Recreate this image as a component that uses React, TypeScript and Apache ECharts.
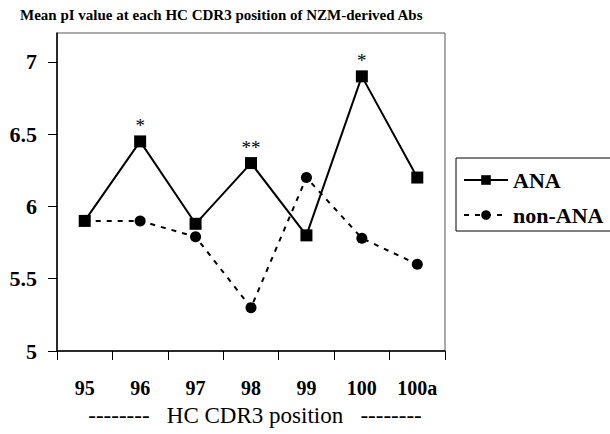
import React, { useEffect, useRef } from "react";
import * as echarts from "echarts";

const categories = ["95", "96", "97", "98", "99", "100", "100a"];
const anaValues = [5.9, 6.45, 5.88, 6.3, 5.8, 6.9, 6.2];
const nonAnaValues = [5.9, 5.9, 5.79, 5.3, 6.2, 5.78, 5.6];
const significance = ["", "*", "", "**", "", "*", ""];
const yTicks = [5, 5.5, 6, 6.5, 7];

const SERIF = "Liberation Serif";

export default function App() {
  const ref = useRef<HTMLDivElement>(null);
  useEffect(() => {
    if (!ref.current) return;
    const chart = echarts.init(ref.current, undefined, { renderer: "svg" });
    chart.setOption({
      animation: false,
      backgroundColor: "#ffffff",
      title: {
        text: "Mean pI value at each HC CDR3 position of NZM-derived Abs",
        left: 20,
        top: 7,
        padding: 0,
        textStyle: { fontFamily: SERIF, fontSize: 15, fontWeight: "bold", color: "#000" },
      },
      grid: {
        left: 57,
        top: 33,
        right: 165,
        bottom: 83,
        show: true,
        borderColor: "#555",
        borderWidth: 1,
        backgroundColor: "transparent",
      },
      legend: {
        orient: "vertical",
        left: 456,
        top: 158,
        padding: [11, 40, 5, 7],
        itemGap: 13,
        itemWidth: 44,
        itemHeight: 12,
        borderColor: "#000",
        borderWidth: 1,
        textStyle: { fontFamily: SERIF, fontSize: 22, fontWeight: "bold", color: "#000", lineHeight: 20 },
        data: ["ANA", "non-ANA"],
      },
      xAxis: {
        type: "category",
        data: categories,
        boundaryGap: true,
        axisLine: { lineStyle: { color: "#000", width: 1.5 } },
        axisTick: { show: true, length: 9, inside: false, lineStyle: { color: "#000" } },
        axisLabel: { margin: 27, fontFamily: SERIF, fontSize: 20, fontWeight: "bold", color: "#000" },
        splitLine: { show: false },
      },
      yAxis: {
        type: "value",
        min: 5,
        max: 7.2,
        interval: 0.5,
        axisLine: { show: true, lineStyle: { color: "#000", width: 1.5 } },
        axisTick: { show: true, length: 9, customValues: yTicks, lineStyle: { color: "#000" } },
        axisLabel: {
          margin: 20,
          customValues: yTicks,
          fontFamily: SERIF,
          fontSize: 22,
          fontWeight: "bold",
          color: "#000",
        },
        splitLine: { show: false },
      },
      series: [
        {
          name: "ANA",
          type: "line",
          data: anaValues.map((v, i) => ({
            value: v,
            label: {
              show: !!significance[i],
              formatter: significance[i],
              position: "top",
              distance: 0,
              fontFamily: SERIF,
              fontSize: 19,
              color: "#000",
            },
          })),
          symbol: "rect",
          symbolSize: 12,
          showAllSymbol: true,
          lineStyle: { color: "#000", width: 2, type: "solid" },
          itemStyle: { color: "#000" },
          z: 3,
        },
        {
          name: "non-ANA",
          type: "line",
          data: nonAnaValues,
          symbol: "circle",
          symbolSize: 11,
          showAllSymbol: true,
          lineStyle: { color: "#000", width: 2, type: [5, 6] },
          itemStyle: { color: "#000" },
          z: 2,
        },
      ],
      graphic: [
        {
          type: "text",
          x: 255,
          y: 415,
          style: {
            text: "--------\u00a0\u00a0\u00a0HC CDR3 position\u00a0\u00a0\u00a0--------",
            fontFamily: SERIF,
            fontSize: 23,
            fill: "#000",
            textAlign: "center",
            textVerticalAlign: "middle",
          },
        },
      ],
    });
    return () => chart.dispose();
  }, []);
  return (
    <div
      ref={ref}
      style={{ position: "fixed", left: 0, top: 0, width: 610, height: 434, background: "#fff" }}
    />
  );
}
